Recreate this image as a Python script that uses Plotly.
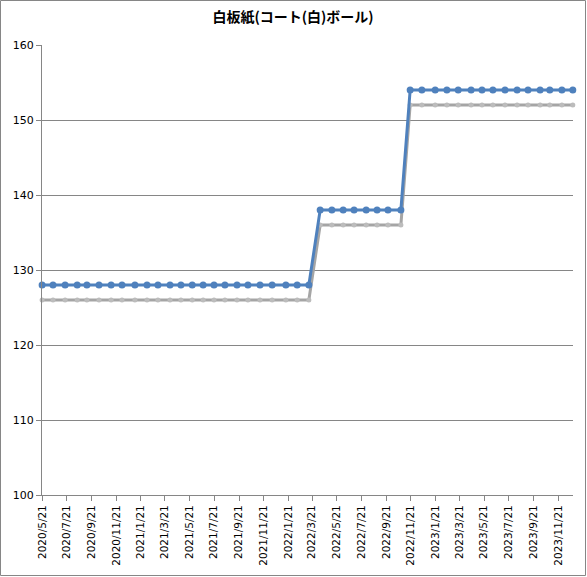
import plotly.graph_objects as go
from datetime import datetime

# data
dates = [
    "2020-05-21", "2020-06-17", "2020-07-17", "2020-08-16", "2020-09-09", "2020-10-09",
    "2020-11-08", "2020-12-05", "2021-01-06", "2021-02-05", "2021-03-04", "2021-04-03",
    "2021-04-30", "2021-05-28", "2021-06-24", "2021-07-21", "2021-08-17", "2021-09-16",
    "2021-10-13", "2021-11-12", "2021-12-12", "2022-01-15", "2022-02-12", "2022-03-13",
    "2022-04-10", "2022-05-09", "2022-06-06", "2022-07-03", "2022-08-02", "2022-08-29",
    "2022-09-25", "2022-10-27", "2022-11-19", "2022-12-18", "2023-01-20", "2023-02-18",
    "2023-03-18", "2023-04-19", "2023-05-16", "2023-06-12", "2023-07-12", "2023-08-11",
    "2023-09-07", "2023-10-07", "2023-10-31", "2023-11-30", "2023-12-27",
]
blue_values = [128] * 24 + [138] * 8 + [154] * 15
gray_values = [126] * 24 + [136] * 8 + [152] * 15

tick_labels = [
    "2020/5/21", "2020/7/21", "2020/9/21", "2020/11/21", "2021/1/21", "2021/3/21",
    "2021/5/21", "2021/7/21", "2021/9/21", "2021/11/21", "2022/1/21", "2022/3/21",
    "2022/5/21", "2022/7/21", "2022/9/21", "2022/11/21", "2023/1/21", "2023/3/21",
    "2023/5/21", "2023/7/21", "2023/9/21", "2023/11/21",
]
tick_dates = [datetime.strptime(t, "%Y/%m/%d").strftime("%Y-%m-%d") for t in tick_labels]

title_text = "白板紙(コート(白)ボール)"

axis_color = "#868686"
font_family = "DejaVu Sans, Verdana, sans-serif"

fig = go.Figure()
fig.add_trace(go.Scatter(x=dates, y=gray_values, mode="lines+markers",
                         line=dict(color="#a5a5a5", width=3),
                         marker=dict(color="#bcbcbc", size=5),
                         cliponaxis=False, showlegend=False))
fig.add_trace(go.Scatter(x=dates, y=blue_values, mode="lines+markers",
                         line=dict(color="#4f81bd", width=3),
                         marker=dict(color="#4f81bd", size=7),
                         cliponaxis=False, showlegend=False))

W, H = 587, 577
L, R, T, B = 42, 14, 45, 82
pw, ph = W - L - R, H - T - B

fig.update_layout(
    width=W, height=H,
    margin=dict(l=L, r=R, t=T, b=B),
    paper_bgcolor="white", plot_bgcolor="white",
    title=dict(text=title_text, x=293 / W, xanchor="center", y=1 - 17 / H, yanchor="middle",
               yref="container",
               font=dict(family="Noto Sans CJK JP", size=14, color="black", weight="bold")),
    font=dict(family=font_family, size=10.5, color="black"),
)

fig.update_xaxes(
    type="date",
    range=["2020-05-20 18:00", "2023-12-27 12:00"],
    tickvals=tick_dates, ticktext=tick_labels, tickangle=-90,
    showgrid=False, showline=True, linecolor=axis_color, linewidth=1,
    ticks="outside", ticklen=5, tickcolor=axis_color,
    tickfont=dict(family=font_family, size=10.5, color="black"),
    zeroline=False,
)
fig.update_yaxes(
    range=[100, 160], dtick=10,
    showgrid=True, gridcolor=axis_color, gridwidth=1,
    showline=True, linecolor=axis_color, linewidth=1,
    ticks="outside", ticklen=5, tickcolor=axis_color,
    tickfont=dict(family=font_family, size=11, color="black"),
    zeroline=False,
)

# outer chart border
fig.add_shape(type="rect", xref="paper", yref="paper",
              x0=(0.5 - L) / pw, x1=(W - 1.5 - L) / pw,
              y0=(H - B - (H - 1.5)) / ph, y1=(H - B - 0.5) / ph,
              line=dict(color=axis_color, width=1), fillcolor="rgba(0,0,0,0)", layer="below")

# drop the default page margin so the figure sits at the window's corner
fig.write_html("out.html", config={"displayModeBar": False},
               post_script="document.body.style.margin='0';")
